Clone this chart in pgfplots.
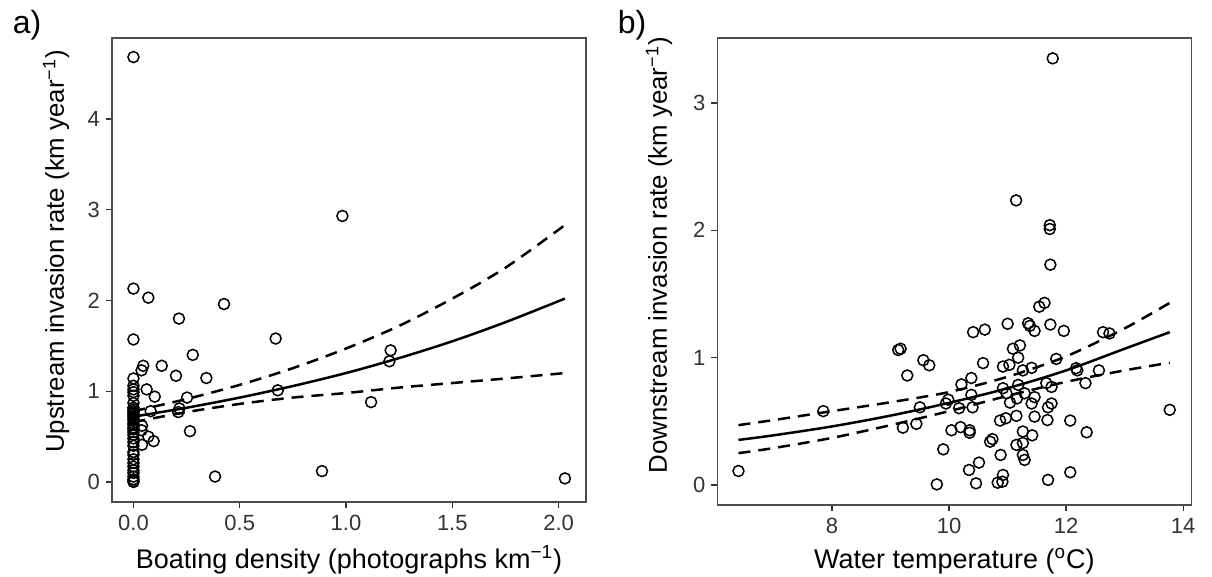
\documentclass[border=0pt]{standalone}
\usepackage{fontspec}
\setmainfont{Liberation Sans}
\usepackage{pgfplots}
\pgfplotsset{compat=1.18}
\definecolor{axgray}{RGB}{77,77,77}
\definecolor{tickgray}{RGB}{51,51,51}
\pgfplotsset{
  myax/.style={
    scale only axis, width=237pt,
    axis line style={axgray, line width=0.6pt},
    tick align=outside, major tick length=3pt,
    every tick/.style={tickgray, line width=0.7pt},
    xtick pos=bottom, ytick pos=left,
    ticklabel style={font=\fontsize{11}{12}\selectfont, text=tickgray},
    yticklabel style={xshift=0.5pt},
    /pgf/number format/assume math mode=true,
    label style={font=\fontsize{13.5}{15}\selectfont},
    ylabel style={font=\fontsize{12.9}{15}\selectfont},
    every axis plot/.append style={black},
  },
  pts/.style={only marks, mark=o, mark size=2.75pt, mark options={line width=0.75pt}},
  fit/.style={no marks, line width=1.25pt, smooth},
  ci/.style={no marks, line width=1.25pt, dash pattern=on 6pt off 4pt, smooth},
}
\begin{document}
\begin{tikzpicture}
\useasboundingbox (0,0) rectangle (606pt,288.5pt);
\node[font=\fontsize{16}{18}\selectfont] at (13.5pt,276pt) {a)};
\node[font=\fontsize{16}{18}\selectfont] at (316pt,276pt) {b)};
\begin{axis}[myax,
  at={(56pt,37.5pt)}, anchor=south west, height=232pt,
  xmin=-0.101, xmax=2.129, ymin=-0.22, ymax=4.89,
  xtick={0,0.5,1,1.5,2}, xticklabels={0.0,0.5,1.0,1.5,2.0},
  ytick={0,1,2,3,4}, yticklabels={0,1,2,3,4},
  xlabel={Boating density (photographs km\textsuperscript{−1})},
  ylabel={Upstream invasion rate (km year\textsuperscript{−1})},
  xlabel style={at={(axis description cs:0.5,-0.144)}, anchor=base},
  ylabel style={at={(axis description cs:-0.118,0.54)}, anchor=center},
]
\addplot[pts] table {
x y
0 4.68
0 2.13
0 1.57
0 1.14
0 1.06
0 1.02
0 0.99
0 0.95
0 0.87
0 0.82
0 0.80
0 0.78
0 0.76
0 0.74
0 0.72
0 0.70
0 0.68
0 0.65
0 0.63
0 0.60
0 0.58
0 0.55
0 0.52
0 0.48
0 0.44
0 0.40
0 0.33
0 0.30
0 0.25
0 0.21
0 0.17
0 0.13
0 0.10
0 0.06
0 0.03
0 0.01
0 0.00
0.070 2.03
0.426 1.96
0.214 1.80
0.669 1.58
0.279 1.40
0.133 1.28
0.046 1.28
0.038 1.23
0.200 1.17
0.343 1.145
0.062 1.02
0.100 0.94
0.252 0.93
0.679 1.01
0.081 0.78
0.216 0.81
0.211 0.77
0.266 0.56
0.040 0.62
0.038 0.57
0.070 0.50
0.095 0.45
0.040 0.41
0.384 0.06
0.887 0.12
0.983 2.93
1.210 1.45
1.204 1.33
1.118 0.88
2.030 0.04
};
\addplot[fit] table {
x y
0 0.72
0.25 0.818
0.5 0.930
0.75 1.057
1.0 1.20
1.25 1.365
1.5 1.55
1.75 1.76
2.03 2.02
};
\addplot[ci] table {
x y
0 0.78
0.25 0.914
0.5 1.07
0.75 1.254
1.0 1.47
1.25 1.72
1.5 2.02
1.75 2.36
2.03 2.83
};
\addplot[ci] table {
x y
0 0.66
0.25 0.77
0.5 0.86
0.75 0.93
1.0 0.98
1.25 1.04
1.5 1.09
1.75 1.14
2.03 1.20
};
\end{axis}
\begin{axis}[myax,
  at={(358.7pt,36pt)}, anchor=south west, height=233.5pt,
  xmin=6.04, xmax=14.14, ymin=-0.157, ymax=3.51,
  xtick={8,10,12,14}, ytick={0,1,2,3},
  xlabel={Water temperature (\textsuperscript{o}C)},
  ylabel={Downstream invasion rate (km year\textsuperscript{−1})},
  xlabel style={at={(axis description cs:0.5,-0.137)}, anchor=base},
  ylabel style={at={(axis description cs:-0.123,0.535)}, anchor=center},
]
\addplot[pts] table {
x y
6.40 0.11
7.85 0.58
9.13 1.06
9.17 1.07
9.285 0.86
9.56 0.98
9.66 0.94
9.50 0.61
9.21 0.45
9.44 0.48
11.77 3.35
11.145 2.235
11.72 2.04
11.72 2.01
11.73 1.73
11.54 1.40
11.63 1.43
10.41 1.20
10.61 1.22
11.00 1.266
11.35 1.27
11.38 1.25
11.46 1.21
11.73 1.26
11.96 1.21
12.63 1.20
12.74 1.19
10.58 0.957
10.92 0.93
11.03 0.944
11.09 1.07
11.21 1.096
11.18 1.00
11.26 0.90
11.41 0.92
11.83 0.99
12.17 0.917
12.19 0.90
12.33 0.80
12.56 0.90
10.38 0.84
10.21 0.79
9.985 0.67
9.945 0.64
10.38 0.708
10.40 0.61
10.17 0.603
10.92 0.76
10.98 0.72
11.04 0.647
11.16 0.68
11.18 0.786
11.29 0.72
11.46 0.69
11.41 0.64
11.66 0.80
11.75 0.77
11.69 0.61
11.75 0.64
11.68 0.51
12.07 0.506
12.35 0.414
13.77 0.59
11.46 0.537
11.15 0.543
10.87 0.506
10.97 0.524
10.04 0.43
10.195 0.454
10.35 0.41
10.35 0.43
9.90 0.28
10.70 0.34
10.74 0.36
11.26 0.42
11.26 0.33
11.42 0.39
11.15 0.315
10.88 0.236
11.26 0.236
11.29 0.197
10.34 0.118
10.51 0.176
9.79 0.005
10.46 0.013
10.83 0.018
10.92 0.079
10.91 0.026
11.69 0.04
12.07 0.10
};
\addplot[fit] table {
x y
6.4 0.354
7 0.39
8 0.46
9 0.545
10 0.645
11 0.76
12 0.90
13 1.07
13.77 1.20
};
\addplot[ci] table {
x y
6.4 0.47
7 0.51
8 0.58
9 0.65
10 0.73
11 0.85
12 1.01
13 1.23
13.77 1.43
};
\addplot[ci] table {
x y
6.4 0.25
7 0.29
8 0.37
9 0.47
10 0.58
11 0.70
12 0.81
13 0.90
13.77 0.96
};
\end{axis}
\end{tikzpicture}
\end{document}
